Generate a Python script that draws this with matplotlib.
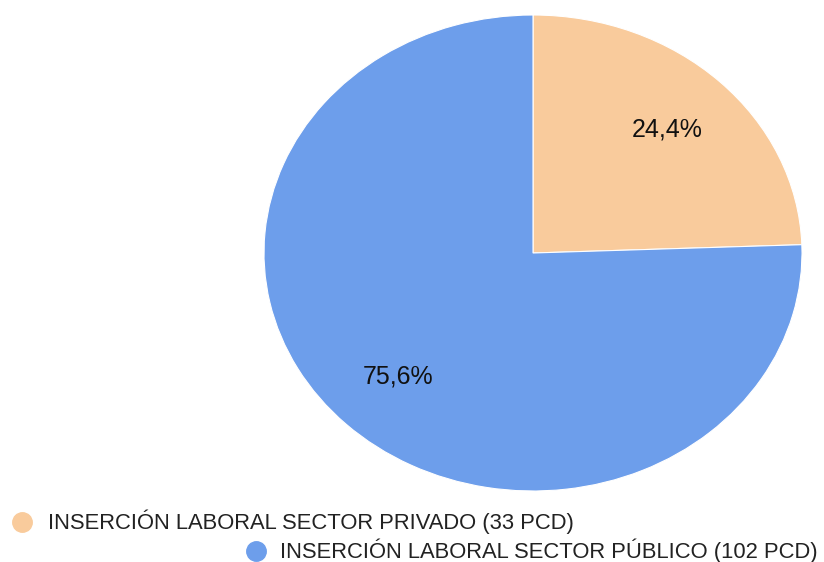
import matplotlib.pyplot as plt

sectores = ['INSERCIÓN LABORAL SECTOR PRIVADO (33 PCD)',
            'INSERCIÓN LABORAL SECTOR PÚBLICO (102 PCD)']
valores = [33, 102]
colores = ['#F9CB9C', '#6D9EEB']

plt.rcParams['font.family'] = ['Liberation Sans', 'DejaVu Sans']

fig = plt.figure(figsize=(8.24, 5.62), dpi=100, facecolor='white')
# pie is stretched horizontally in the original, so use a free-aspect axes
ax = fig.add_axes([264 / 824, 71 / 562, 538 / 824, 476 / 562])

def fmt(p):
    return f'{p:.1f}%'.replace('.', ',')

wedges, texts, autotexts = ax.pie(valores, colors=colores, startangle=90,
                                  counterclock=False, autopct=fmt,
                                  pctdistance=0.72, radius=1,
                                  wedgeprops=dict(edgecolor='white', linewidth=0.8),
                                  textprops=dict(fontsize=18, color='#111111'))
ax.set_aspect('auto')
ax.set_xlim(-1, 1)
ax.set_ylim(-1, 1)
ax.axis('off')

# legend, wrapped like the original
pos = [(22, 522, 48), (256, 551, 280)]
for (mx, my, tx), nombre, c in zip(pos, sectores, colores):
    fig.add_artist(plt.Line2D([mx / 824], [1 - my / 562], marker='o', markersize=14,
                              color=c, linestyle='none', transform=fig.transFigure))
    fig.text(tx / 824, 1 - my / 562, nombre, fontsize=15.8, color='#222222',
             va='center', ha='left')

plt.savefig('out.png', dpi=100, facecolor='white')
